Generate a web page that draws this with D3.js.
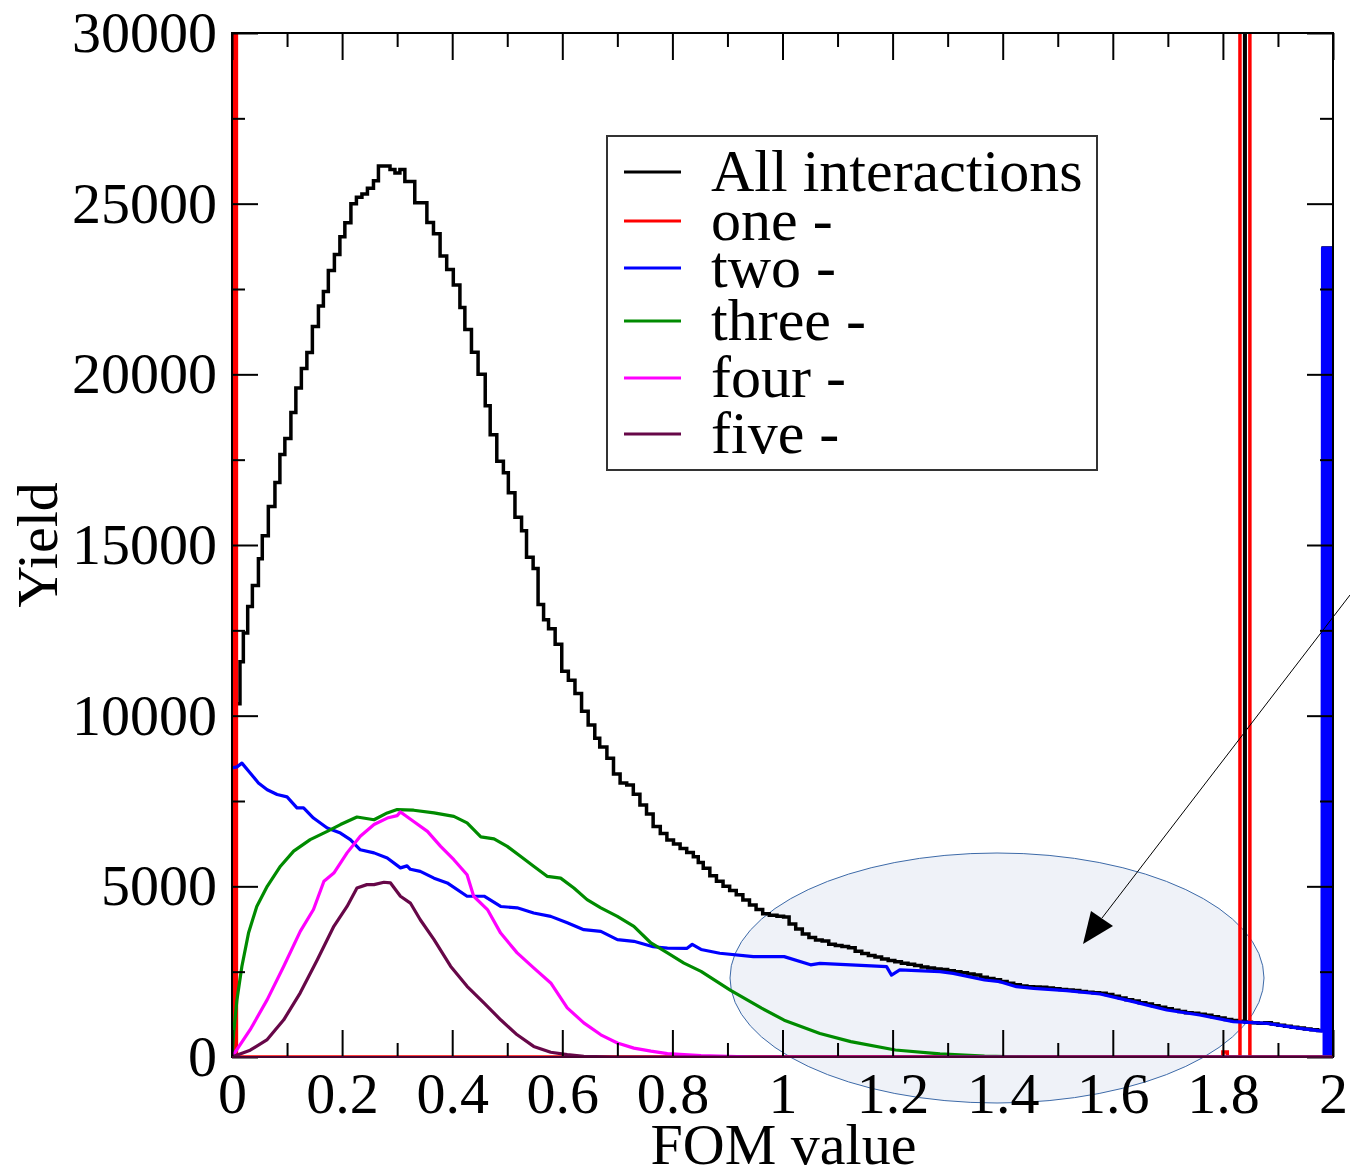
<!DOCTYPE html>
<html>
<head>
<meta charset="utf-8">
<script src="https://cdn.jsdelivr.net/npm/d3@7"></script>
<style>
  body { margin: 0; background: #fff; }
  text { font-family: "Liberation Serif", "Times New Roman", serif; }
</style>
</head>
<body>
<script>
// FOM value histogram, yield per interaction multiplicity
const width = 1350, height = 1172;
const margin = {left: 232, top: 33, right: 17, bottom: 115};

// [FOM bin start, yield] (step histogram)
const allInteractions = [
  [0, 40000], [0.001, 10350], [0.0145, 11580], [0.0206, 12420], [0.0285, 13200], [0.037, 13810],
  [0.048, 14600], [0.055, 15270], [0.066, 16130], [0.078, 16830], [0.087, 17650], [0.096, 18120],
  [0.107, 18880], [0.116, 19600], [0.126, 20170], [0.136, 20640], [0.146, 21400], [0.157, 22000],
  [0.166, 22430], [0.175, 23040], [0.186, 23510], [0.196, 24030], [0.205, 24440], [0.216, 25000],
  [0.226, 25190], [0.236, 25280], [0.246, 25450], [0.257, 25670], [0.266, 26100], [0.287, 26000],
  [0.296, 25900], [0.305, 26000], [0.314, 25650], [0.332, 25030], [0.354, 24450], [0.366, 24120],
  [0.378, 23470], [0.390, 23070], [0.402, 22620], [0.414, 21960], [0.423, 21310], [0.435, 20650],
  [0.447, 20000], [0.460, 19080], [0.469, 18230], [0.481, 17450], [0.493, 17120], [0.502, 16530],
  [0.514, 15810], [0.526, 15420], [0.535, 14640], [0.547, 14310], [0.556, 13260], [0.566, 12810],
  [0.575, 12550], [0.587, 12090], [0.599, 11300], [0.611, 11040], [0.623, 10650], [0.635, 10130],
  [0.647, 9730], [0.659, 9340], [0.668, 9080], [0.681, 8750], [0.693, 8290], [0.705, 8030],
  [0.717, 7970], [0.729, 7700], [0.741, 7380], [0.753, 7120], [0.765, 6750], [0.778, 6550],
  [0.790, 6360], [0.802, 6240], [0.814, 6110], [0.826, 5990], [0.838, 5870], [0.847, 5700],
  [0.856, 5530], [0.868, 5310], [0.880, 5150], [0.892, 5000], [0.904, 4880], [0.916, 4750],
  [0.928, 4600], [0.940, 4450], [0.952, 4320], [0.964, 4200], [0.976, 4150], [0.990, 4120],
  [1.002, 4100], [1.012, 3900], [1.024, 3750], [1.036, 3600], [1.048, 3500], [1.060, 3430],
  [1.072, 3400], [1.084, 3300], [1.096, 3270], [1.108, 3240], [1.120, 3200], [1.132, 3100],
  [1.144, 3030], [1.156, 2970], [1.168, 2930], [1.180, 2870], [1.192, 2830], [1.204, 2790],
  [1.216, 2750], [1.228, 2720], [1.240, 2680], [1.252, 2640], [1.264, 2610], [1.276, 2580],
  [1.288, 2560], [1.300, 2530], [1.312, 2500], [1.324, 2470], [1.336, 2430], [1.348, 2400],
  [1.360, 2340], [1.372, 2300], [1.384, 2260], [1.396, 2210], [1.408, 2160], [1.420, 2120],
  [1.432, 2080], [1.444, 2060], [1.456, 2050], [1.468, 2040], [1.480, 2020], [1.492, 2000],
  [1.504, 1980], [1.516, 1960], [1.528, 1950], [1.540, 1920], [1.552, 1900], [1.564, 1880],
  [1.576, 1870], [1.588, 1830], [1.600, 1780], [1.612, 1730], [1.624, 1680], [1.636, 1640],
  [1.648, 1590], [1.660, 1550], [1.672, 1500], [1.684, 1460], [1.696, 1410], [1.708, 1370],
  [1.720, 1330], [1.732, 1300], [1.744, 1280], [1.756, 1250], [1.768, 1220], [1.780, 1180],
  [1.792, 1140], [1.804, 1100], [1.816, 1070], [1.828, 1050], [1.8395, 40000], [1.8405, 1020],
  [1.852, 1000], [1.864, 990], [1.876, 1000], [1.888, 970], [1.900, 930], [1.912, 900],
  [1.924, 870], [1.936, 850], [1.948, 820], [1.960, 800], [1.972, 780], [1.982, 23700], [2.0, 23700]
];

const one = [
  [0, 0], [0.003, 60000], [0.008, 0], [1.800, 150], [1.808, 0],
  [1.831, 60000], [1.849, 0], [2.0, 0]
];

const two = [
  [0, 8470], [0.009, 8500], [0.018, 8610], [0.033, 8320], [0.048, 8030], [0.064, 7830],
  [0.082, 7690], [0.1, 7620], [0.118, 7300], [0.130, 7300], [0.148, 7000], [0.173, 6710],
  [0.197, 6560], [0.215, 6370], [0.233, 6070], [0.258, 5980], [0.282, 5830], [0.306, 5540],
  [0.318, 5600], [0.324, 5500], [0.342, 5440], [0.367, 5240], [0.391, 5100], [0.427, 4710],
  [0.458, 4710], [0.488, 4410], [0.518, 4370], [0.548, 4220], [0.579, 4120], [0.609, 3930],
  [0.639, 3730], [0.670, 3680], [0.7, 3440], [0.730, 3390], [0.765, 3230], [0.791, 3190],
  [0.826, 3180], [0.836, 3300], [0.852, 3150], [0.886, 3040], [0.947, 2940], [1.003, 2940],
  [1.051, 2700], [1.068, 2745], [1.124, 2700], [1.189, 2646], [1.198, 2400], [1.213, 2550],
  [1.286, 2500], [1.310, 2450], [1.367, 2256], [1.395, 2207], [1.425, 2060], [1.456, 2012],
  [1.516, 1943], [1.577, 1846], [1.637, 1621], [1.698, 1377], [1.758, 1230], [1.819, 1035],
  [1.880, 986], [1.940, 840], [1.980, 760], [1.981, 23700], [1.999, 23700], [2.0, 600]
];

const three = [
  [0, 0], [0.003, 700], [0.009, 1680], [0.018, 2660], [0.030, 3630], [0.045, 4410],
  [0.064, 5000], [0.088, 5590], [0.112, 6030], [0.142, 6370], [0.173, 6610], [0.197, 6810],
  [0.227, 7030], [0.258, 6950], [0.282, 7150], [0.300, 7250], [0.330, 7230], [0.367, 7150],
  [0.403, 7050], [0.427, 6860], [0.452, 6450], [0.476, 6390], [0.500, 6170], [0.524, 5880],
  [0.548, 5590], [0.573, 5290], [0.597, 5240], [0.621, 4950], [0.645, 4610], [0.670, 4370],
  [0.700, 4120], [0.730, 3830], [0.761, 3340], [0.791, 3050], [0.821, 2750], [0.852, 2510],
  [0.905, 1960], [0.962, 1430], [1.003, 1080], [1.068, 690], [1.124, 450], [1.205, 205],
  [1.286, 90], [1.367, 30], [1.449, 0], [2.0, 0]
];

const four = [
  [0, 0], [0.033, 800], [0.064, 1680], [0.094, 2660], [0.124, 3680], [0.148, 4320],
  [0.167, 5150], [0.185, 5390], [0.209, 5980], [0.233, 6470], [0.258, 6810], [0.282, 7000],
  [0.300, 7070], [0.306, 7180], [0.330, 6900], [0.355, 6610], [0.379, 6170], [0.403, 5780],
  [0.427, 5340], [0.439, 4710], [0.464, 4320], [0.488, 3630], [0.518, 3050], [0.548, 2610],
  [0.579, 2170], [0.609, 1440], [0.639, 1000], [0.670, 650], [0.700, 410], [0.730, 260],
  [0.761, 170], [0.791, 100], [0.852, 40], [0.95, 0], [2.0, 0]
];

const five = [
  [0, 0], [0.033, 200], [0.064, 510], [0.094, 1090], [0.124, 1880], [0.155, 2850],
  [0.185, 3830], [0.209, 4410], [0.227, 4950], [0.245, 5050], [0.258, 5050], [0.276, 5120],
  [0.288, 5100], [0.306, 4710], [0.324, 4510], [0.342, 4020], [0.367, 3440], [0.397, 2660],
  [0.427, 2070], [0.458, 1580], [0.488, 1090], [0.518, 650], [0.548, 310], [0.579, 140],
  [0.609, 70], [0.639, 20], [0.7, 0], [2.0, 0]
];

const seriesNames = ["All interactions", "one -", "two -", "three -", "four -", "five -"];
const seriesColors = ["#000000", "#ff0000", "#0000ff", "#008b00", "#ff00ff", "#670748"];

const xMajor = [0, 0.2, 0.4, 0.6, 0.8, 1, 1.2, 1.4, 1.6, 1.8, 2];
const xMinor = [0.1, 0.3, 0.5, 0.7, 0.9, 1.1, 1.3, 1.5, 1.7, 1.9];
const yMajor = [0, 5000, 10000, 15000, 20000, 25000, 30000];
const yMinor = [2500, 7500, 12500, 17500, 22500, 27500];

const svg = d3.select("body").append("svg")
    .attr("width", width)
    .attr("height", height);

svg.append("rect").attr("width", width).attr("height", height).attr("fill", "#fff");

const x = d3.scaleLinear().domain([0, 2]).range([margin.left, width - margin.right]);
const y = d3.scaleLinear().domain([0, 30000]).range([height - margin.bottom, margin.top]);

svg.append("clipPath").attr("id", "plot")
  .append("rect")
    .attr("x", x(0)).attr("y", y(30000))
    .attr("width", x(2) - x(0)).attr("height", y(0) - y(30000));

// highlighted region (drawn underneath everything)
svg.append("ellipse")
    .attr("cx", 997).attr("cy", 978)
    .attr("rx", 267).attr("ry", 125)
    .attr("fill", "#eff2f8")
    .attr("stroke", "#3d6aa8")
    .attr("stroke-width", 1);

const stepLine = d3.line().x(d => x(d[0])).y(d => y(d[1])).curve(d3.curveStepAfter);
const polyLine = d3.line().x(d => x(d[0])).y(d => y(d[1]));

const plot = svg.append("g").attr("clip-path", "url(#plot)");

plot.append("path").datum(allInteractions)
    .attr("d", stepLine).attr("fill", "none")
    .attr("stroke", seriesColors[0]).attr("stroke-width", 3.5);

plot.append("path").datum(one)
    .attr("d", stepLine).attr("fill", "none")
    .attr("stroke", seriesColors[1]).attr("stroke-width", 3.5);

// last bin of "two" is drawn filled
plot.append("path").datum(two.filter(d => d[0] >= 1.981 && d[0] <= 1.999))
    .attr("d", d3.area().x(d => x(d[0])).y0(y(0)).y1(d => y(d[1])))
    .attr("fill", seriesColors[2]);

[two, three, four, five].forEach((s, i) => {
  plot.append("path").datum(s)
      .attr("d", polyLine).attr("fill", "none")
      .attr("stroke", seriesColors[i + 2]).attr("stroke-width", 3.2)
      .attr("stroke-linejoin", "round");
});

// axes, ticks pointing inward on all four sides
function styleAxis(g) {
  g.select(".domain").remove();
  g.selectAll(".tick line").attr("stroke", "#000").attr("stroke-width", 2);
  g.selectAll("text").attr("font-family", "Liberation Serif").attr("font-size", 58).attr("fill", "#000");
}

svg.append("g").attr("transform", `translate(0,${y(0)})`)
    .call(d3.axisBottom(x).tickValues(xMajor).tickSize(-27).tickPadding(15).tickFormat(d3.format("")))
    .call(styleAxis);
svg.append("g").attr("transform", `translate(0,${y(0)})`)
    .call(d3.axisBottom(x).tickValues(xMinor).tickSize(-14).tickFormat(""))
    .call(styleAxis);
svg.append("g").attr("transform", `translate(0,${y(30000)})`)
    .call(d3.axisTop(x).tickValues(xMajor).tickSize(-27).tickFormat(""))
    .call(styleAxis);
svg.append("g").attr("transform", `translate(0,${y(30000)})`)
    .call(d3.axisTop(x).tickValues(xMinor).tickSize(-14).tickFormat(""))
    .call(styleAxis);

svg.append("g").attr("transform", `translate(${x(0)},0)`)
    .call(d3.axisLeft(y).tickValues(yMajor).tickSize(-26).tickPadding(15).tickFormat(d3.format("")))
    .call(styleAxis);
svg.append("g").attr("transform", `translate(${x(0)},0)`)
    .call(d3.axisLeft(y).tickValues(yMinor).tickSize(-13).tickFormat(""))
    .call(styleAxis);
svg.append("g").attr("transform", `translate(${x(2)},0)`)
    .call(d3.axisRight(y).tickValues(yMajor).tickSize(-26).tickFormat(""))
    .call(styleAxis);
svg.append("g").attr("transform", `translate(${x(2)},0)`)
    .call(d3.axisRight(y).tickValues(yMinor).tickSize(-13).tickFormat(""))
    .call(styleAxis);

svg.append("rect")
    .attr("x", x(0)).attr("y", y(30000))
    .attr("width", x(2) - x(0)).attr("height", y(0) - y(30000))
    .attr("fill", "none").attr("stroke", "#000").attr("stroke-width", 2);

// zero line of "five" lies over the frame, as in the original
svg.append("line")
    .attr("x1", x(0)).attr("x2", x(2)).attr("y1", y(0)).attr("y2", y(0))
    .attr("stroke", seriesColors[5]).attr("stroke-width", 2).attr("opacity", 0.7);

// axis titles
svg.append("text")
    .attr("x", (x(0) + x(2)) / 2 + 1).attr("y", 1164)
    .attr("text-anchor", "middle").attr("font-size", 58)
    .text("FOM value");

svg.append("text")
    .attr("transform", "translate(57,545) rotate(-90)")
    .attr("text-anchor", "middle").attr("font-size", 58)
    .text("Yield");

// legend
const legendRowY = [172, 221, 268, 321, 378, 434];
const legend = svg.append("g");
legend.append("rect")
    .attr("x", 607).attr("y", 136).attr("width", 490).attr("height", 334)
    .attr("fill", "#fff").attr("stroke", "#333").attr("stroke-width", 2);
seriesNames.forEach((name, i) => {
  legend.append("line")
      .attr("x1", 624).attr("x2", 681)
      .attr("y1", legendRowY[i]).attr("y2", legendRowY[i])
      .attr("stroke", seriesColors[i]).attr("stroke-width", 3);
  legend.append("text")
      .attr("x", 711).attr("y", legendRowY[i] + 19)
      .attr("font-size", 60)
      .text(name);
});

// annotation arrow
svg.append("line")
    .attr("x1", 1350).attr("y1", 595).attr("x2", 1102).attr("y2", 918)
    .attr("stroke", "#000").attr("stroke-width", 1);
svg.append("path")
    .attr("d", "M1083,944 L1091,911 L1113,926 Z")
    .attr("fill", "#000");
</script>
</body>
</html>
